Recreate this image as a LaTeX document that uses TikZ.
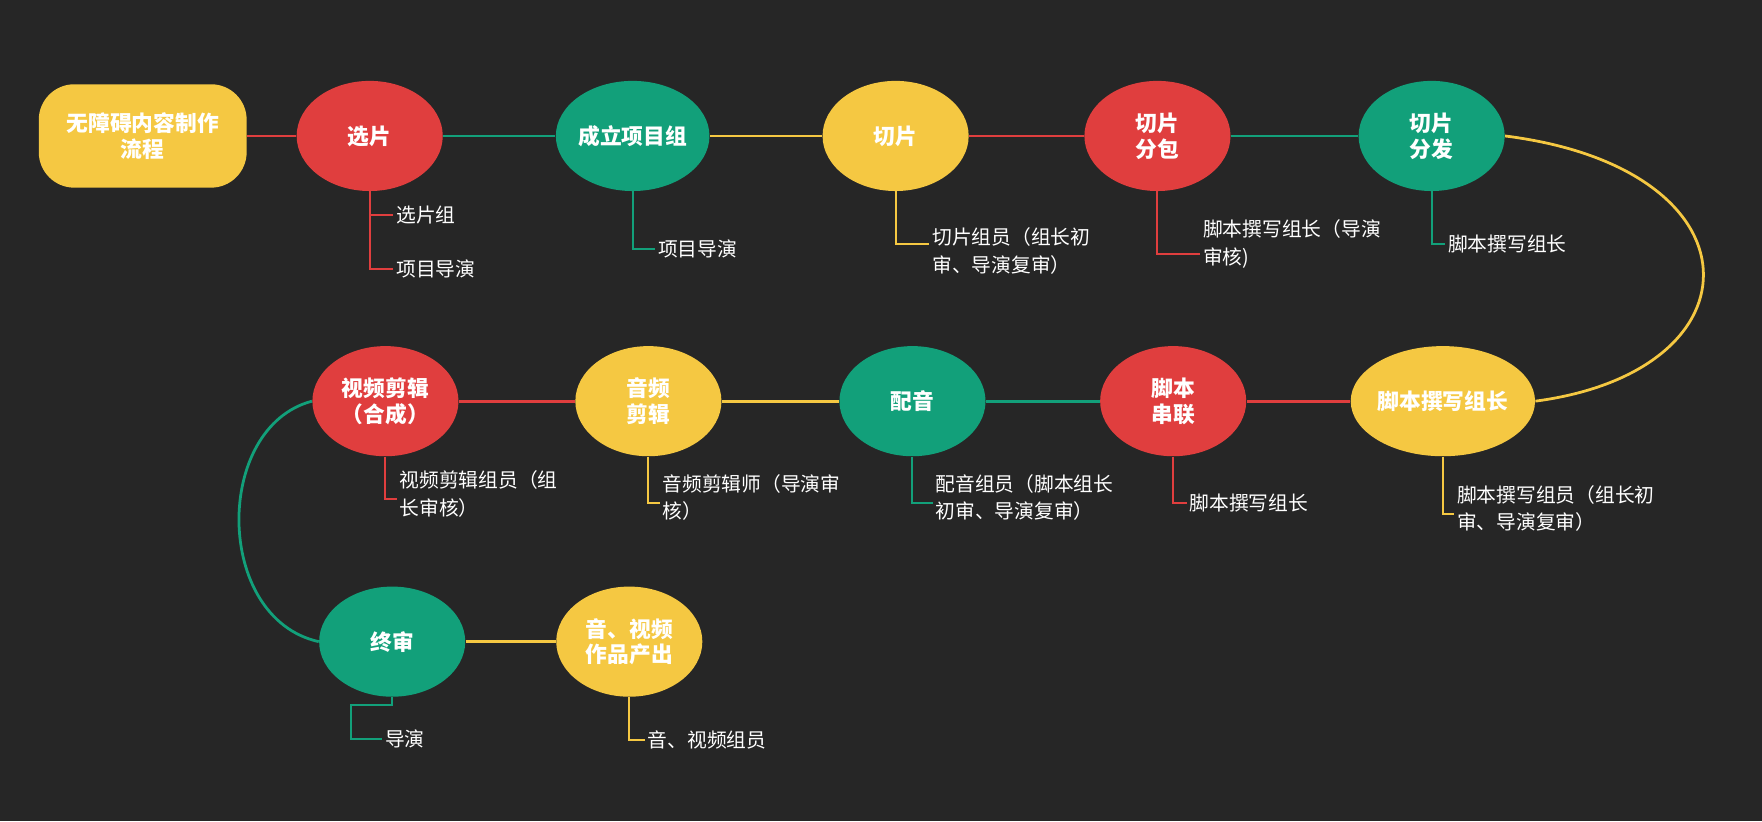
\documentclass[tikz,border=0pt]{standalone}
\usepackage{fontspec}
\setmainfont{Noto Sans CJK SC}
\usetikzlibrary{shapes.geometric,positioning,calc}
\definecolor{bgc}{HTML}{262626}
\definecolor{yel}{HTML}{F5C842}
\definecolor{rd}{HTML}{E03E3E}
\definecolor{grn}{HTML}{12A07A}
\tikzset{
  step node/.style={ellipse,fill=#1,minimum width=2.6cm,minimum height=1.96cm,inner sep=0pt,
    text=white,font=\bfseries\fontsize{11}{13}\selectfont,align=center},
  link/.style={line width=1.4pt,draw=#1},
  branch/.style={line width=1pt,draw=#1},
  note/.style={anchor=west,text=white,font=\fontsize{10}{14}\selectfont,align=left,inner sep=1pt}
}
\begin{document}
\begin{tikzpicture}
\fill[bgc] (0,0) rectangle (31.36,-14.62);
\useasboundingbox (0,0) rectangle (31.36,-14.62);

%first row
\node[rounded corners=18pt,fill=yel,minimum width=3.7cm,minimum height=1.84cm,text=white,
  font=\bfseries\fontsize{11}{13}\selectfont,align=center] (start) at (2.54,-2.42) {无障碍内容制作\\流程};
\node[step node=rd] (pick) at (6.58,-2.42) {选片};
\node[step node=grn] (team) at (11.26,-2.42) {成立项目组};
\node[step node=yel] (cut) at (15.94,-2.42) {切片};
\node[step node=rd] (pack) at (20.6,-2.42) {切片\\分包};
\node[step node=grn] (send) at (25.48,-2.42) {切片\\分发};

%second row
\node[step node=yel,minimum width=3cm] (lead) at (25.68,-7.14) {脚本撰写组长};
\node[step node=rd] (join) at (20.88,-7.14) {脚本\\串联};
\node[step node=grn] (dub) at (16.24,-7.14) {配音};
\node[step node=yel] (audio) at (11.54,-7.14) {音频\\剪辑};
\node[step node=rd] (video) at (6.86,-7.14) {视频剪辑\\（合成）};

%third row
\node[step node=grn] (final) at (6.98,-11.42) {终审};
\node[step node=yel] (out) at (11.2,-11.42) {音、视频\\作品产出};

%connectors
\draw[link=rd] (start) -- (pick);
\draw[link=grn] (pick) -- (team);
\draw[link=yel] (team) -- (cut);
\draw[link=rd] (cut) -- (pack);
\draw[link=grn] (pack) -- (send);
\draw[link=yel] (send.east) .. controls (31.4,-3.0) and (31.4,-6.6) .. (lead.east);
\draw[link=rd] (lead) -- (join);
\draw[link=grn] (join) -- (dub);
\draw[link=yel] (dub) -- (audio);
\draw[link=rd] (audio) -- (video);
\draw[link=grn] (video.west) .. controls (3.8,-7.6) and (3.8,-11.0) .. (final.west);
\draw[link=yel] (final) -- (out);

%notes
\draw[branch=rd] (pick.south) |- +(0.42,-0.42) node[note] (pickA) {选片组};
\draw[branch=rd] (pick.south) |- +(0.42,-1.38) node[note] (pickB) {项目导演};
\draw[branch=grn] (team.south) |- +(0.4,-1.02) node[note] (teamA) {项目导演};
\draw[branch=yel] (cut.south) |- +(0.6,-0.94) node[note,anchor=north west,yshift=0.34cm] (cutA) {切片组员（组长初\\审、导演复审）};
\draw[branch=rd] (pack.south) |- +(0.76,-1.12) node[note,anchor=south west,yshift=-0.3cm] (packA) {脚本撰写组长（导演\\审核)};
\draw[branch=grn] (send.south) |- +(0.24,-0.94) node[note] (sendA) {脚本撰写组长};
\draw[branch=rd] (video.south) |- +(0.2,-0.76) node[note,anchor=north west,yshift=0.56cm] (videoA) {视频剪辑组员（组\\长审核）};
\draw[branch=yel] (audio.south) |- +(0.2,-0.82) node[note,anchor=north west,yshift=0.56cm] (audioA) {音频剪辑师（导演审\\核）};
\draw[branch=grn] (dub.south) |- +(0.36,-0.82) node[note,anchor=north west,yshift=0.56cm] (dubA) {配音组员（脚本组长\\初审、导演复审）};
\draw[branch=rd] (join.south) |- +(0.24,-0.82) node[note] (joinA) {脚本撰写组长};
\draw[branch=yel] (lead.south) |- +(0.2,-1.02) node[note,anchor=north west,yshift=0.56cm] (leadA) {脚本撰写组员（组长初\\审、导演复审）};
\draw[branch=grn] (final.south) -- +(0,-0.14) -| ($(final.south)+(-0.74,-0.74)$) -- +(0.56,0) node[note] (finalA) {导演};
\draw[branch=yel] (out.south) |- +(0.28,-0.76) node[note] (outA) {音、视频组员};
\end{tikzpicture}
\end{document}
